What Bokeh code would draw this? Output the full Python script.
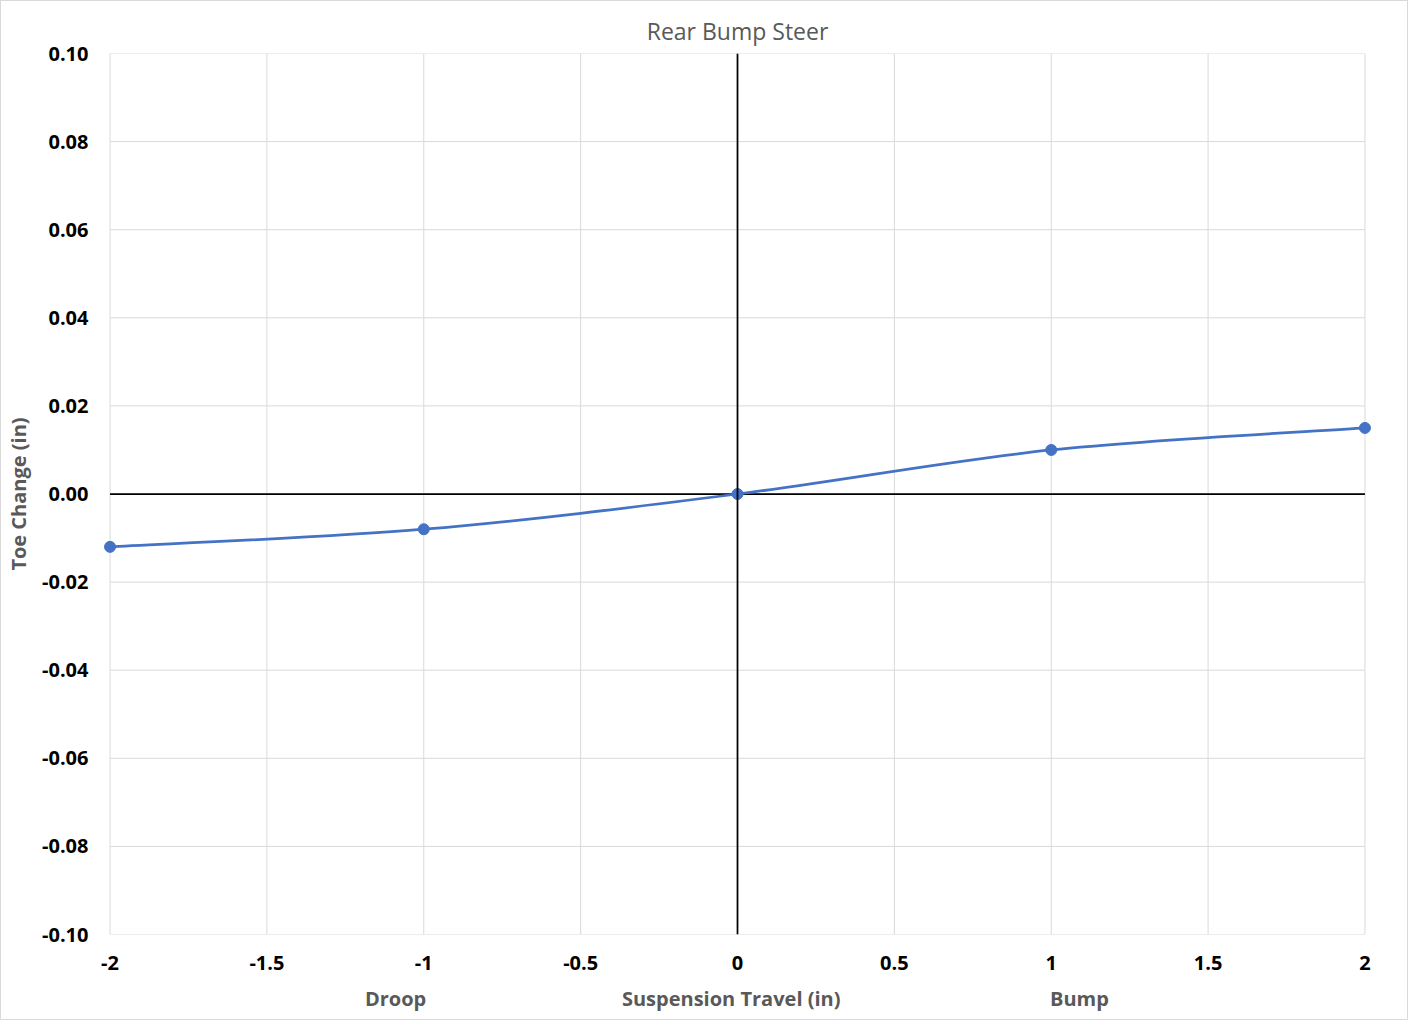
from bokeh.plotting import figure
from bokeh.models import FixedTicker, Span, Range1d, LinearAxis
from bokeh.embed import file_html
from bokeh.resources import INLINE

# ---- data ----
travel = [-2, -1, 0, 1, 2]
toe_change = [-0.012, -0.008, 0.0, 0.010, 0.015]
x_ticks = [-2, -1.5, -1, -0.5, 0, 0.5, 1, 1.5, 2]
x_tick_labels = ["-2", "-1.5", "-1", "-0.5", "0", "0.5", "1", "1.5", "2"]
y_ticks = [-0.10, -0.08, -0.06, -0.04, -0.02, 0.0, 0.02, 0.04, 0.06, 0.08, 0.10]
y_tick_labels = ["-0.10", "-0.08", "-0.06", "-0.04", "-0.02", "0.00", "0.02", "0.04", "0.06", "0.08", "0.10"]
title_text = "Rear Bump Steer"
y_title = "Toe Change (in)"
bottom_titles = ["Droop", "Suspension Travel (in)", "Bump"]
bottom_title_x = [-1.09, -0.02, 1.09]

FONT = "Open Sans"
GRAY = "#595959"
GRID = "#d9d9d9"
BLUE = "#4472C4"

pad = 0.04  # small margin so end markers are not clipped
p = figure(width=1408, height=1020, output_backend="svg", toolbar_location=None,
           x_range=Range1d(x_ticks[0] - pad, x_ticks[-1] + pad),
           y_range=Range1d(y_ticks[0], y_ticks[-1]),
           min_border_left=96, min_border_right=32, min_border_top=52, min_border_bottom=87)
p.styles = {"border": "1px solid #d9d9d9", "box-sizing": "border-box"}

p.title.text = title_text
p.title.align = "center"
p.title.text_font = FONT
p.title.text_font_size = "23px"
p.title.text_font_style = "normal"
p.title.text_color = GRAY
p.title.standoff = 13

p.outline_line_color = None
p.background_fill_color = "white"
p.border_fill_color = "white"


def style_axis(ax):
    ax.axis_line_color = None
    ax.major_tick_line_color = None
    ax.minor_tick_line_color = None
    ax.major_label_text_font = FONT
    ax.major_label_text_font_size = "20px"
    ax.major_label_text_font_style = "bold"
    ax.major_label_text_color = "black"
    ax.axis_label_text_font = FONT
    ax.axis_label_text_font_size = "20px"
    ax.axis_label_text_font_style = "bold"
    ax.axis_label_text_color = GRAY


for ax, ticks, labels in ((p.xaxis[0], x_ticks, x_tick_labels), (p.yaxis[0], y_ticks, y_tick_labels)):
    ax.ticker = FixedTicker(ticks=ticks)
    ax.major_label_overrides = {t: l for t, l in zip(ticks, labels)}
    style_axis(ax)

p.xaxis[0].major_label_standoff = 15
p.yaxis[0].major_label_standoff = 3
p.yaxis[0].axis_label = y_title
p.yaxis[0].axis_label_standoff = 7

# second row below the x axis: Droop / Suspension Travel (in) / Bump
ax2 = LinearAxis(ticker=FixedTicker(ticks=bottom_title_x),
                 major_label_overrides={t: l for t, l in zip(bottom_title_x, bottom_titles)})
style_axis(ax2)
ax2.major_label_text_color = GRAY
ax2.major_label_standoff = 6
p.add_layout(ax2, "below")

# gridlines limited to the -2..2 / -0.1..0.1 box
p.xgrid.visible = False
p.ygrid.visible = False
p.segment(x0=x_ticks, x1=x_ticks, y0=[y_ticks[0]] * len(x_ticks), y1=[y_ticks[-1]] * len(x_ticks),
          line_color=GRID, line_width=1)
p.segment(x0=[x_ticks[0]] * len(y_ticks), x1=[x_ticks[-1]] * len(y_ticks), y0=y_ticks, y1=y_ticks,
          line_color=GRID, line_width=1)

# axes crossing at zero
p.add_layout(Span(location=0, dimension="height", line_color="black", line_width=1.75))
p.segment(x0=[x_ticks[0]], x1=[x_ticks[-1]], y0=[0], y1=[0], line_color="black", line_width=1.75)

# smoothed line (Excel-style Bezier through the data points)
n = len(travel)
x0s, y0s, x1s, y1s, cx0, cy0, cx1, cy1 = ([] for _ in range(8))
for i in range(n - 1):
    im1 = max(i - 1, 0)
    ip2 = min(i + 2, n - 1)
    x0s.append(travel[i]); y0s.append(toe_change[i])
    x1s.append(travel[i + 1]); y1s.append(toe_change[i + 1])
    cx0.append(travel[i] + (travel[i + 1] - travel[im1]) / 6)
    cy0.append(toe_change[i] + (toe_change[i + 1] - toe_change[im1]) / 6)
    cx1.append(travel[i + 1] - (travel[ip2] - travel[i]) / 6)
    cy1.append(toe_change[i + 1] - (toe_change[ip2] - toe_change[i]) / 6)
p.bezier(x0=x0s, y0=y0s, x1=x1s, y1=y1s, cx0=cx0, cy0=cy0, cx1=cx1, cy1=cy1,
         line_color=BLUE, line_width=2.75)
p.scatter(travel, toe_change, size=11, color=BLUE)

open("out.html", "w").write(file_html(p, INLINE))
